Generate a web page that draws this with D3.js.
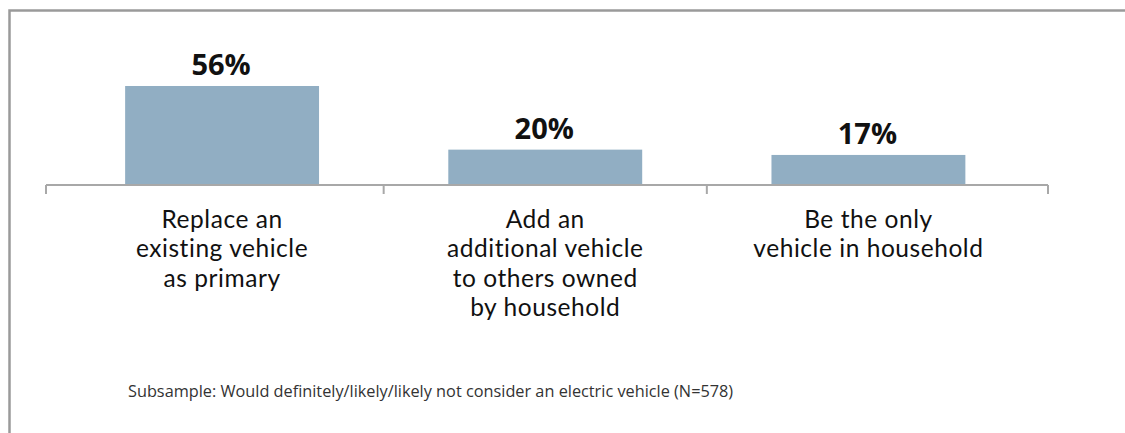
<!DOCTYPE html>
<html>
<head>
<meta charset="utf-8">
<script src="https://cdn.jsdelivr.net/npm/d3@7"></script>
<style>
  html, body { margin: 0; padding: 0; background: #fff; }
  svg { display: block; font-family: "Open Sans", "Noto Sans", sans-serif; }
</style>
</head>
<body>
<svg id="chart" width="1125" height="433"></svg>
<script>
// Intended use of the electric vehicle
const categories = ["replace", "add", "only"];
const categoryLines = [
  ["Replace an", "existing vehicle", "as primary"],
  ["Add an", "additional vehicle", "to others owned", "by household"],
  ["Be the only", "vehicle in household"]
];
const values = [56, 20, 17];
const footnote = "Subsample: Would definitely/likely/likely not consider an electric vehicle (N=578)";

const svg = d3.select("#chart");

// outer frame (runs off the right and bottom edges)
svg.append("rect")
  .attr("x", 9.5).attr("y", 10.5)
  .attr("width", 1300).attr("height", 600)
  .attr("fill", "none")
  .attr("stroke", "#9a9a9a")
  .attr("stroke-width", 2.5);

const baseY = 185;
const x = d3.scaleBand()
  .domain(categories)
  .range([60.5, 1030])
  .paddingInner(0.4)
  .paddingOuter(0.2);

const y = d3.scaleLinear()
  .domain([0, 100])
  .range([baseY, 8.2]);

// bars
svg.selectAll("rect.bar")
  .data(values)
  .join("rect")
  .attr("class", "bar")
  .attr("x", (d, i) => x(categories[i]))
  .attr("width", x.bandwidth())
  .attr("y", d => y(d))
  .attr("height", d => y(0) - y(d))
  .attr("fill", "#91aec3");

// value labels
svg.selectAll("text.val")
  .data(values)
  .join("text")
  .attr("class", "val")
  .attr("x", (d, i) => x(categories[i]) + x.bandwidth() / 2 - 1)
  .attr("y", d => y(d) - 11)
  .attr("text-anchor", "middle")
  .attr("font-size", 29)
  .attr("font-weight", 700)
  .attr("fill", "#111")
  .text(d => d + "%");

// category axis with separators between groups
const axisStart = 46, axisEnd = 1048;
svg.append("line")
  .attr("x1", axisStart).attr("x2", axisEnd)
  .attr("y1", baseY).attr("y2", baseY)
  .attr("stroke", "#a8a8a8").attr("stroke-width", 2);

const step = x.step();
const tickXs = [axisStart]
  .concat(categories.slice(1).map(c => x(c) - step * x.paddingInner() / 2))
  .concat([axisEnd]);
svg.selectAll("line.tick")
  .data(tickXs)
  .join("line")
  .attr("class", "tick")
  .attr("x1", d => d).attr("x2", d => d)
  .attr("y1", baseY).attr("y2", baseY + 9)
  .attr("stroke", "#a8a8a8").attr("stroke-width", 2);

// category labels, one line per text so the lines stack tightly
svg.selectAll("g.cat")
  .data(categoryLines)
  .join("g")
  .attr("class", "cat")
  .each(function(lines, i) {
    const cx = x(categories[i]) + x.bandwidth() / 2;
    d3.select(this).selectAll("text")
      .data(lines)
      .join("text")
      .attr("x", cx)
      .attr("y", (l, j) => 228 + j * 29.3)
      .attr("text-anchor", "middle")
      .attr("font-family", "Lato, 'Open Sans', sans-serif")
      .attr("font-size", 24.5)
      .attr("letter-spacing", 0.55)
      .attr("fill", "#111")
      .text(l => l);
  });

// footnote
svg.append("text")
  .attr("x", 128).attr("y", 397)
  .attr("font-size", 16.3)
  .attr("fill", "#333")
  .text(footnote);
</script>
</body>
</html>
